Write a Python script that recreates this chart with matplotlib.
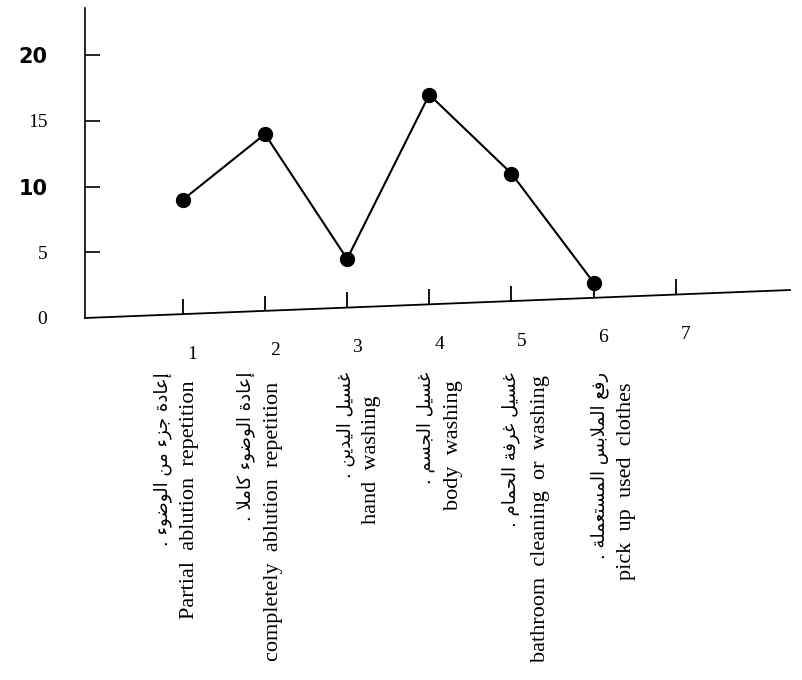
# -*- coding: utf-8 -*-
# 빈도 선 그래프 (세정 행동별) - 기울어진 x축 스캔 도표 재현
import unicodedata
import matplotlib
matplotlib.use('Agg')
import matplotlib.pyplot as plt
import matplotlib.transforms as mtrans

# 데이터
categories = [1, 2, 3, 4, 5, 6]
values = [9, 14, 4.5, 17, 11, 2.7]
x_ticks = [1, 2, 3, 4, 5, 6, 7]
y_ticks = [0, 5, 10, 15, 20]
labels_en = ['Partial  ablution  repetition',
             'completely  ablution  repetition',
             'hand  washing',
             'body  washing',
             'bathroom  cleaning  or  washing',
             'pick  up  used  clothes']
labels_ar = ['إعادة جزء من الوضوء .',
             'إعادة الوضوء كاملا .',
             'غسيل اليدين .',
             'غسيل الجسم .',
             'غسيل غرفة الحمام .',
             'رفع الملابس المستعملة .']

# 라벨 위치 보정값 (레이아웃)
en_shift = [0.085, 0.10, 0.30, 0.30, 0.35, 0.40]
ar_shift = [-0.24, -0.23, -0.02, -0.04, -0.01, 0.07]
en_top = [380, 382, 395, 380, 375, 383]

# 아랍어 글자 모양 변환 (matplotlib은 연결형을 만들지 않음)
RIGHT_ONLY = set('اأإآدذرزوؤة')
NON_JOIN = set('ء')


def is_letter(c):
    return '\u0620' <= c <= '\u064A'


def joins_next(c):
    return is_letter(c) and c not in RIGHT_ONLY and c not in NON_JOIN


def joins_prev(c):
    return is_letter(c) and c not in NON_JOIN


def shape(text):
    out = []
    i = 0
    while i < len(text):
        c = text[i]
        prev = text[i - 1] if i > 0 else ' '
        conn_prev = joins_prev(c) and joins_next(prev)
        if c == 'ل' and i + 1 < len(text) and text[i + 1] in 'اأإآ':
            alef = {'ا': '', 'أ': ' WITH HAMZA ABOVE', 'إ': ' WITH HAMZA BELOW',
                    'آ': ' WITH MADDA ABOVE'}[text[i + 1]]
            form = 'FINAL' if conn_prev else 'ISOLATED'
            out.append(unicodedata.lookup('ARABIC LIGATURE LAM WITH ALEF%s %s FORM' % (alef, form)))
            i += 2
            continue
        nxt = text[i + 1] if i + 1 < len(text) else ' '
        conn_next = joins_next(c) and joins_prev(nxt)
        if is_letter(c):
            if conn_prev and conn_next:
                form = 'MEDIAL'
            elif conn_prev:
                form = 'FINAL'
            elif conn_next:
                form = 'INITIAL'
            else:
                form = 'ISOLATED'
            try:
                c = unicodedata.lookup(unicodedata.name(c) + ' ' + form + ' FORM')
            except KeyError:
                pass
        out.append(c)
        i += 1
    return ''.join(reversed(out))


fig = plt.figure(figsize=(8.02, 6.8), dpi=100)
ax = fig.add_axes([85 / 802, 1 - 318 / 680, 705 / 802, 310 / 680])

xmin, xmax = -0.19, 8.39
ax.set_xlim(xmin, xmax)
ax.set_ylim(0, 23.6)

# 선 그래프
ax.plot(categories, values, color='black', linewidth=1.5,
        marker='o', markersize=10, markerfacecolor='black', clip_on=False)

# 기울어진 x축
rise = 2.13


def base(x):
    return rise * (x - xmin) / (xmax - xmin)


ax.plot([xmin, xmax], [base(xmin), base(xmax)], color='black', linewidth=1.3, clip_on=False)
ax.vlines(x_ticks, [base(k) for k in x_ticks], [base(k) + 1.15 for k in x_ticks],
          color='black', linewidth=1.3)

for k in x_ticks:
    ax.text(k + 0.12, base(k) - 2.4, str(k), ha='center', va='top',
            fontsize=14, family='Liberation Serif')

# y축
for s in ['top', 'right', 'bottom']:
    ax.spines[s].set_visible(False)
ax.spines['left'].set_linewidth(1.2)
ax.set_xticks([])
ax.set_yticks(y_ticks)
ax.tick_params(axis='y', direction='in', length=11, width=1.2, pad=27)
ax.set_yticklabels([str(v) for v in y_ticks])
for lab, v in zip(ax.get_yticklabels(), y_ticks):
    if v in (10, 20):
        lab.set_fontfamily('DejaVu Sans')
        lab.set_fontweight('bold')
        lab.set_fontsize(15)
    else:
        lab.set_fontfamily('Liberation Serif')
        lab.set_fontsize(14)
# 0 눈금 선은 축 모서리라 안 보이게
ax.yaxis.get_major_ticks()[0].tick1line.set_visible(False)

# 세로 카테고리 라벨
tr = mtrans.blended_transform_factory(ax.transData, fig.transFigure)
for k, en, ar, de, da, top in zip(categories, labels_en, labels_ar, en_shift, ar_shift, en_top):
    ax.text(k + de, 1 - top / 680, en, rotation=90, ha='center', va='top',
            fontsize=16, family='Liberation Serif', transform=tr)
    ax.text(k + da, 1 - 372 / 680, shape(ar), rotation=90, ha='center', va='top',
            fontsize=13, family='DejaVu Sans', transform=tr)

plt.savefig('out.png', dpi=100)
plt.close()
